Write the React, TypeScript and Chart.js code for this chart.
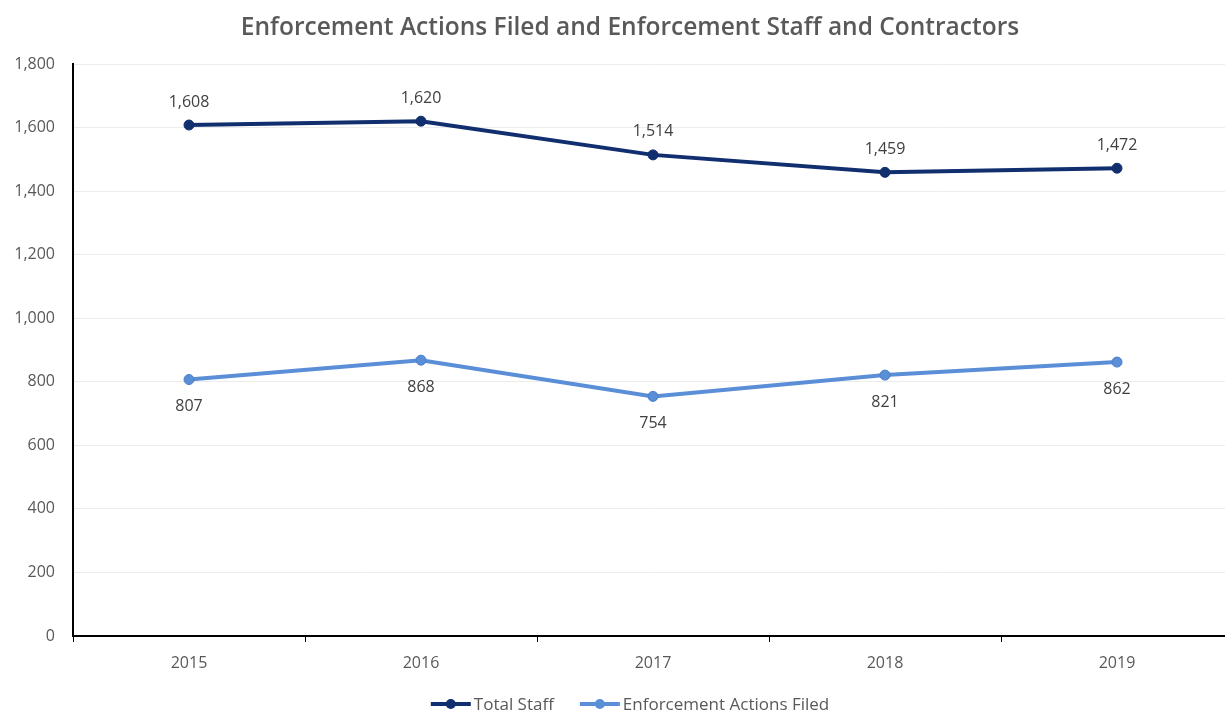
import React, { useEffect, useRef } from "react";
import { Chart, registerables } from "chart.js";

Chart.register(...registerables);

const years = ["2015", "2016", "2017", "2018", "2019"];
const totalStaff = [1608, 1620, 1514, 1459, 1472];
const enforcementActions = [807, 868, 754, 821, 862];
const yTicks = [0, 200, 400, 600, 800, 1000, 1200, 1400, 1600, 1800];
const titleText = "Enforcement Actions Filed and Enforcement Staff and Contractors";

const NAVY = "#112f6f";
const LIGHT = "#5a8fd8";
const TEXT = "#595959";
const FONT = "'Open Sans', 'Noto Sans', sans-serif";
const CENTER_X = 630;

const dataLabels = {
  id: "dataLabels",
  afterDatasetsDraw(chart: any) {
    const ctx = chart.ctx;
    ctx.save();
    ctx.font = `16px ${FONT}`;
    ctx.fillStyle = "#404040";
    ctx.textAlign = "center";
    ctx.textBaseline = "middle";
    chart.data.datasets.forEach((ds: any, i: number) => {
      const meta = chart.getDatasetMeta(i);
      meta.data.forEach((pt: any, j: number) => {
        const v = ds.data[j] as number;
        const txt = v.toLocaleString("en-US");
        const dy = i === 0 ? -23 : 27;
        ctx.fillText(txt, pt.x, pt.y + dy);
      });
    });
    ctx.restore();
  },
};

const titleAndLegend = {
  id: "titleAndLegend",
  afterDraw(chart: any) {
    const ctx = chart.ctx;
    ctx.save();
    // title
    ctx.font = `600 24.5px ${FONT}`;
    ctx.fillStyle = TEXT;
    ctx.textAlign = "center";
    ctx.textBaseline = "alphabetic";
    ctx.fillText(titleText, CENTER_X, 35);
    // legend
    ctx.font = `17px ${FONT}`;
    const lineW = 40;
    const gapText = 3;
    const gapItem = 26;
    const items = chart.data.datasets.map((ds: any) => ({
      label: ds.label as string,
      color: ds.borderColor as string,
      w: ctx.measureText(ds.label).width,
    }));
    const total =
      items.reduce((s: number, it: any) => s + lineW + gapText + it.w, 0) +
      gapItem * (items.length - 1);
    let x = CENTER_X - total / 2;
    const y = 704;
    items.forEach((it: any) => {
      ctx.strokeStyle = it.color;
      ctx.lineWidth = 4;
      ctx.beginPath();
      ctx.moveTo(x, y);
      ctx.lineTo(x + lineW, y);
      ctx.stroke();
      ctx.fillStyle = it.color;
      ctx.beginPath();
      ctx.arc(x + lineW / 2, y, 5, 0, Math.PI * 2);
      ctx.fill();
      x += lineW + gapText;
      ctx.fillStyle = TEXT;
      ctx.textAlign = "left";
      ctx.textBaseline = "middle";
      ctx.fillText(it.label, x, y + 1);
      x += it.w + gapItem;
    });
    ctx.restore();
  },
};

export default function App() {
  const ref = useRef<HTMLCanvasElement>(null);
  useEffect(() => {
    if (!ref.current) return;
    const chart = new Chart(ref.current, {
      type: "line",
      data: {
        labels: years,
        datasets: [
          {
            label: "Total Staff",
            data: totalStaff,
            borderColor: NAVY,
            backgroundColor: NAVY,
            pointBackgroundColor: NAVY,
            pointBorderColor: NAVY,
            borderWidth: 4,
            pointRadius: 5,
            pointBorderWidth: 1,
            tension: 0,
          },
          {
            label: "Enforcement Actions Filed",
            data: enforcementActions,
            borderColor: LIGHT,
            backgroundColor: LIGHT,
            pointBackgroundColor: LIGHT,
            pointBorderColor: "#4a7fc8",
            borderWidth: 4,
            pointRadius: 5,
            pointBorderWidth: 1,
            tension: 0,
          },
        ],
      },
      options: {
        responsive: false,
        animation: false,
        layout: { padding: { left: 0, right: 29, top: 64, bottom: 29 } },
        plugins: {
          title: { display: false },
          legend: { display: false },
          tooltip: { enabled: false },
        },
        scales: {
          x: {
            offset: true,
            afterFit: (scale: any) => {
              scale.height = 50;
            },
            grid: {
              display: true,
              offset: true,
              drawOnChartArea: false,
              drawTicks: true,
              tickLength: 6,
              color: "#000",
            },
            border: { display: true, color: "#000", width: 2 },
            ticks: { color: TEXT, font: { family: FONT, size: 16 }, padding: 12 },
          },
          y: {
            min: 0,
            max: 1800,
            afterBuildTicks: (scale: any) => {
              scale.ticks = yTicks.map((v) => ({ value: v }));
            },
            afterFit: (scale: any) => {
              scale.width = 73;
            },
            grid: { color: "#ececec", drawTicks: false },
            border: { display: true, color: "#000", width: 2 },
            ticks: {
              color: TEXT,
              font: { family: FONT, size: 16 },
              padding: 18,
              callback: (v: any) => Number(v).toLocaleString("en-US"),
            },
          },
        },
      },
      plugins: [dataLabels, titleAndLegend],
    });
    return () => chart.destroy();
  }, []);
  return (
    <div
      style={{
        position: "fixed",
        left: 0,
        top: 0,
        width: 1225,
        height: 715,
        overflow: "hidden",
        background: "#fff",
      }}
    >
      <canvas ref={ref} width={1262} height={715} style={{ width: 1262, height: 715, display: "block" }} />
    </div>
  );
}
